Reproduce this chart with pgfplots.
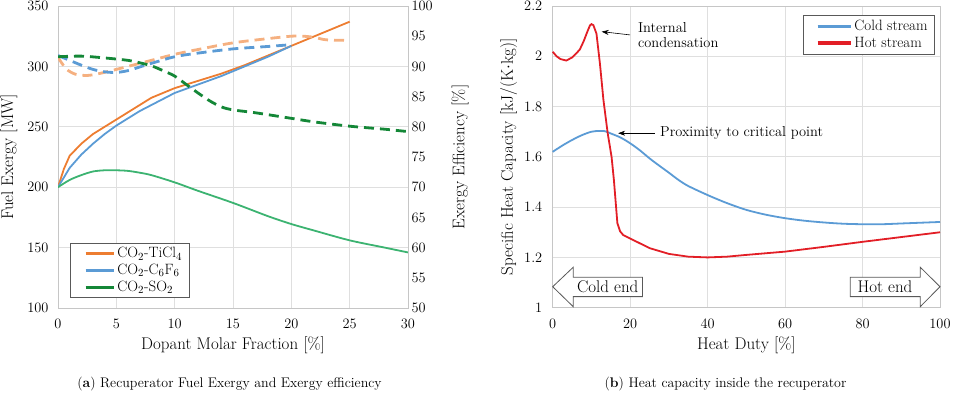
\documentclass[border=0pt]{standalone}
\usepackage{pgfplots}
\pgfplotsset{compat=1.18}
\usetikzlibrary{arrows.meta}
\definecolor{cOr}{RGB}{237,125,49}
\definecolor{cOrL}{RGB}{245,176,128}
\definecolor{cBl}{RGB}{91,155,213}
\definecolor{cGrD}{RGB}{20,135,55}
\definecolor{cGrL}{RGB}{60,179,113}
\definecolor{cRd}{RGB}{226,30,38}
\newcommand{\fs}[1]{\fontsize{#1}{#1}\selectfont}
\pgfplotsset{
 base/.style={scale only axis, major tick length=0pt, tick style={draw=none},
   grid=major, major grid style={gray!25, line width=0.8bp},
   axis line style={gray!45, line width=0.8bp},
   tick label style={font=\fs{14.5}},
   label style={font=\fs{17}},
 },
 dsh/.style={line width=2.8bp, dash pattern=on 10bp off 6bp},
}
\begin{document}
\begin{tikzpicture}
\useasboundingbox (0bp,0bp) rectangle (953bp,393bp);
% ---------------- left plot, primary axis
\begin{axis}[base, at={(58bp,85bp)}, anchor=south west, width=350bp, height=302bp,
  xmin=0, xmax=30, ymin=100, ymax=350,
  xtick={0,5,...,30}, ytick={100,150,...,350},
  yticklabel style={xshift=-6bp}, xticklabel style={yshift=-8bp},
  xlabel={Dopant Molar Fraction [\%]}, ylabel={Fuel Exergy [MW]},
  xlabel style={at={(axis description cs:0.5,-0.085)}, anchor=north},
  ylabel style={at={(axis description cs:-0.14,0.5)}, anchor=center},
  legend cell align=left,
  legend style={at={(axis description cs:0.034,0.215)}, anchor=north west,
    draw=gray!70!black, line width=0.8bp, fill=white, font=\fs{15},
    inner xsep=5bp, inner ysep=2bp, row sep=1bp},
  legend image code/.code={\path (-10bp,0bp); \draw[#1, line width=3.5bp] (0bp,0bp) -- (28bp,0bp);},
  ]
\addplot[cOr, line width=1.8bp, forget plot] coordinates {
 (0,200) (0.5,215) (1,226) (2,236) (3,244) (4,250) (5,256) (6,262) (7,268)
 (8,274) (9,278) (10,282) (12,288) (14,294) (16,301) (18,309) (20,317)
 (22,325) (24,333) (25,337)};
\addplot[cBl, line width=1.8bp, forget plot] coordinates {
 (0,200) (1,216) (2,227) (3,236) (4,244) (5,251) (6,257) (7,263) (8,268)
 (9,273) (10,278) (12,285) (14,292) (16,300) (18,308) (20,317)};
\addplot[cGrL, line width=1.8bp, smooth, forget plot] coordinates {
 (0,200) (1,206) (2,210) (3,213) (4,214) (5,214) (6,213.5) (7,212) (8,210)
 (10,204) (12,197) (15,187) (18,176) (20,169.5) (22,164) (25,156) (28,150) (30,146)};
\addlegendimage{cOr}\addlegendentry{CO$_2$-TiCl$_4$}
\addlegendimage{cBl}\addlegendentry{CO$_2$-C$_6$F$_6$}
\addlegendimage{cGrD}\addlegendentry{CO$_2$-SO$_2$}
\end{axis}
% ---------------- left plot, secondary axis
\begin{axis}[scale only axis, at={(58bp,85bp)}, anchor=south west, width=350bp, height=302bp,
  xmin=0, xmax=30, ymin=50, ymax=100, axis x line=none, axis y line*=right,
  major tick length=0pt, tick style={draw=none},
  axis line style={gray!45, line width=0.8bp},
  tick label style={font=\fs{14.5}}, label style={font=\fs{17}},
  ytick={50,55,...,100},
  ylabel={Exergy Efficiency [\%]},
  ylabel style={at={(axis description cs:1.149,0.5)}, anchor=center},
  ]
\addplot[cOrL, dsh, smooth] coordinates {
 (0,91.5) (0.7,89.6) (1.5,88.7) (2.5,88.5) (3.5,88.8) (5,89.5) (6,90) (7,90.5)
 (8,91) (10,92) (12,92.8) (15,93.9) (18,94.6) (20,95) (21,95) (22,94.8) (23,94.4) (25,94.3)};
\addplot[cBl, dsh, smooth] coordinates {
 (0,91.8) (1,91) (2,90.2) (3,89.5) (4,89.1) (5,89) (6,89.3) (7,89.9) (8,90.5)
 (10,91.6) (12,92.2) (15,92.9) (18,93.3) (20,93.6)};
\addplot[cGrD, dsh, smooth] coordinates {
 (0,91.6) (2,91.7) (4,91.4) (6,91) (7,90.6) (8,90.1) (9,89.3) (10,88.4) (11,87)
 (12,85.6) (13,84.3) (14,83.3) (15,82.8) (17,82.3) (20,81.4) (22,80.8) (25,80.1)
 (28,79.6) (30,79.2)};
\end{axis}
% ---------------- right plot
\begin{axis}[base, at={(552.7bp,85.3bp)}, anchor=south west, width=387.3bp, height=301.7bp,
  xmin=0, xmax=100, ymin=1, ymax=2.2, clip=false,
  xtick={0,20,...,100}, ytick={1,1.2,1.4,1.6,1.8,2,2.2},
  yticklabel style={xshift=-7bp}, xticklabel style={yshift=-8bp},
  xlabel={Heat Duty [\%]}, ylabel={Specific Heat Capacity [kJ/(K$\cdot$kg)]},
  xlabel style={at={(axis description cs:0.5,-0.085)}, anchor=north},
  ylabel style={at={(axis description cs:-0.114,0.5)}, anchor=center},
  legend cell align=left,
  legend style={at={(axis description cs:0.987,0.970)}, anchor=north east,
    draw=gray!70!black, line width=0.8bp, fill=white, font=\fs{15},
    inner xsep=5bp, inner ysep=3bp, row sep=1bp},
  legend image code/.code={\path (-8bp,0bp); \draw[#1, line width=3.5bp] (0bp,0bp) -- (33bp,0bp);},
  ]
\addplot[cBl, line width=1.8bp, smooth] coordinates {
 (0,1.62) (2.5,1.645) (5,1.667) (7.5,1.686) (10,1.7) (12,1.703) (13.5,1.702)
 (15,1.693) (17.5,1.677) (20,1.654) (22.5,1.626) (25,1.594) (27.5,1.565) (30,1.537)
 (32.5,1.508) (35,1.484) (40,1.448) (45,1.416) (50,1.389) (55,1.37) (60,1.356)
 (65,1.346) (70,1.339) (75,1.334) (80,1.332) (85,1.332) (90,1.335) (95,1.338) (100,1.341)};
\addlegendentry{Cold stream\hspace{28bp}}
\addplot[cRd, line width=1.8bp] coordinates {
 (0,2.018) (1,2.0) (2,1.989) (3.5,1.983) (5,1.995) (6,2.01) (7,2.027) (8,2.06)
 (9,2.1) (9.6,2.122) (10,2.128) (10.5,2.124) (11.3,2.09) (12.2,1.97) (13.1,1.826)
 (14.2,1.694) (15.2,1.6) (15.8,1.508) (16.7,1.336) (17.4,1.304) (18.2,1.289)
 (20,1.275) (22,1.26) (25,1.237) (30,1.214) (35,1.203) (40,1.2) (45,1.203)
 (50,1.21) (60,1.223) (70,1.242) (80,1.262) (90,1.281) (100,1.3)};
\addlegendentry{Hot stream}
% annotations
\draw[-{Stealth[length=7bp,width=5bp]}, line width=0.6bp] (axis cs:19.96,2.085) -- (axis cs:12.65,2.098);
\node[anchor=west, align=left, font=\fs{14.5}, inner sep=0pt] at (axis cs:22.0,2.085) {Internal\\[1bp]condensation};
\draw[-{Stealth[length=7bp,width=5bp]}, line width=0.6bp] (axis cs:26.4,1.694) -- (axis cs:16.9,1.694);
\node[anchor=west, font=\fs{14.5}, inner sep=0pt] at (axis cs:27.7,1.694) {Proximity to critical point};
\draw[gray!70!black, line width=0.8bp, fill=white] (axis cs:0,1.0835) -- (axis cs:5.3,1.161) -- (axis cs:5.3,1.121) -- (axis cs:23.2,1.121) -- (axis cs:23.2,1.044) -- (axis cs:5.3,1.044) -- (axis cs:5.3,1.004) -- cycle;
\node[font=\fs{17}] at (axis cs:14.2,1.083) {Cold end};
\draw[gray!70!black, line width=0.8bp, fill=white] (axis cs:100,1.0835) -- (axis cs:94.9,1.161) -- (axis cs:94.9,1.121) -- (axis cs:76.8,1.121) -- (axis cs:76.8,1.044) -- (axis cs:94.9,1.044) -- (axis cs:94.9,1.004) -- cycle;
\node[font=\fs{17}] at (axis cs:85.8,1.083) {Hot end};
\end{axis}
% captions
\node[anchor=base, font=\fs{14}] at (229.5bp,6bp) {(\textbf{a}) Recuperator Fuel Exergy and Exergy efficiency};
\node[anchor=base, font=\fs{14}] at (725.5bp,6bp) {(\textbf{b}) Heat capacity inside the recuperator};
\end{tikzpicture}
\end{document}
